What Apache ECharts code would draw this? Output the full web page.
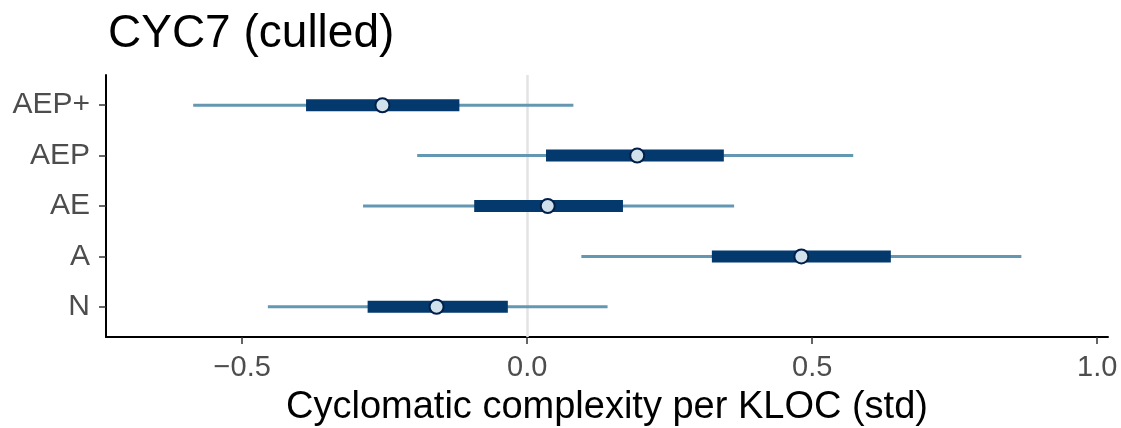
<!DOCTYPE html>
<html>
<head>
<meta charset="utf-8">
<script src="https://cdn.jsdelivr.net/npm/echarts@6/dist/echarts.min.js"></script>
<style>html,body{margin:0;padding:0;background:#fff;}#chart{width:1121px;height:428px;}</style>
</head>
<body>
<div id="chart"></div>
<script>
// categories from bottom to top
const categories = ['N', 'A', 'AE', 'AEP', 'AEP+'];
const outerLow  = [-0.455, 0.095, -0.288, -0.193, -0.586];
const outerHigh = [0.141, 0.867, 0.363, 0.572, 0.081];
const innerLow  = [-0.280, 0.324, -0.093, 0.033, -0.388];
const innerHigh = [-0.034, 0.638, 0.168, 0.345, -0.119];
const medians   = [-0.159, 0.481, 0.036, 0.193, -0.254];
const xTicks = [-0.5, 0, 0.5, 1.0];

const intervalData = categories.map((c, i) => [i, outerLow[i], outerHigh[i], innerLow[i], innerHigh[i]]);
const pointData = categories.map((c, i) => [medians[i], i]);

const chart = echarts.init(document.getElementById('chart'), null, {renderer: 'canvas'});
chart.setOption({
  animation: false,
  backgroundColor: '#ffffff',
  title: {
    text: 'CYC7 (culled)',
    left: 103,
    top: 6,
    textStyle: {fontFamily: 'Liberation Sans', fontSize: 46, fontWeight: 'normal', color: '#000'}
  },
  grid: {left: 106, right: 13, top: 75, bottom: 91, containLabel: false, outerBoundsMode: 'none'},
  xAxis: {
    type: 'value',
    min: -0.739,
    max: 1.019,
    name: 'Cyclomatic complexity per KLOC (std)',
    nameLocation: 'middle',
    nameGap: 52,
    nameTextStyle: {fontFamily: 'Liberation Sans', fontSize: 38, color: '#000'},
    axisLine: {show: true, onZero: false, lineStyle: {color: '#000', width: 2}},
    axisTick: {show: true, length: 7, customValues: xTicks, lineStyle: {color: '#333', width: 1.5}},
    axisLabel: {
      customValues: xTicks,
      margin: 16,
      fontFamily: 'Liberation Sans', fontSize: 29, color: '#4D4D4D',
      formatter: v => (v < 0 ? '\u2212' : '') + Math.abs(v).toFixed(1)
    },
    splitLine: {show: false}
  },
  yAxis: {
    type: 'value',
    min: -0.6,
    max: 4.6,
    axisLine: {show: true, onZero: false, lineStyle: {color: '#000', width: 2}},
    axisTick: {show: true, length: 7, customValues: [0, 1, 2, 3, 4], lineStyle: {color: '#333', width: 1.5}},
    axisLabel: {
      customValues: [0, 1, 2, 3, 4],
      margin: 16,
      fontFamily: 'Liberation Sans', fontSize: 30, color: '#4D4D4D',
      formatter: v => categories[Math.round(v)]
    },
    splitLine: {show: false}
  },
  series: [
    {
      type: 'custom',
      data: intervalData,
      encode: {x: [1, 2, 3, 4], y: 0},
      z: 2,
      renderItem: function (params, api) {
        const y = api.value(0);
        const o1 = api.coord([api.value(1), y]);
        const o2 = api.coord([api.value(2), y]);
        const i1 = api.coord([api.value(3), y]);
        const i2 = api.coord([api.value(4), y]);
        return {
          type: 'group',
          children: [
            {type: 'line', shape: {x1: o1[0], y1: o1[1], x2: o2[0], y2: o2[1]}, style: {stroke: '#6497b1', lineWidth: 3}},
            {type: 'rect', shape: {x: i1[0], y: i1[1] - 6, width: i2[0] - i1[0], height: 12}, style: {fill: '#03396c'}}
          ]
        };
      }
    },
    {
      type: 'scatter',
      data: pointData,
      symbol: 'circle',
      symbolSize: 14,
      z: 3,
      itemStyle: {color: '#d1e1ec', borderColor: '#011f4b', borderWidth: 2, opacity: 1},
      markLine: {
        silent: true,
        symbol: 'none',
        label: {show: false},
        lineStyle: {color: '#E3E3E3', width: 2.5, type: 'solid'},
        data: [{xAxis: 0}],
        z: 1
      }
    }
  ]
});
</script>
</body>
</html>
